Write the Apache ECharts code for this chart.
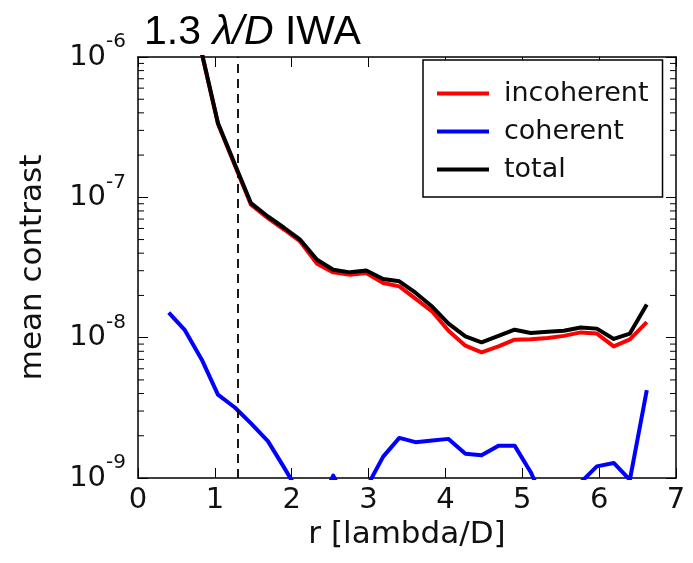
<!DOCTYPE html>
<html>
<head>
<meta charset="utf-8">
<script src="https://cdn.jsdelivr.net/npm/echarts@6/dist/echarts.min.js"></script>
<style>
html,body{margin:0;padding:0;background:#fff;}
#chart{width:693px;height:563px;}
</style>
</head>
<body>
<div id="chart"></div>
<script>
// ---- data ----
var rValues = [0.40, 0.61, 0.83, 1.04, 1.26, 1.47, 1.69, 1.90, 2.11, 2.33,
               2.54, 2.76, 2.97, 3.19, 3.40, 3.61, 3.83, 4.04, 4.26, 4.47,
               4.69, 4.90, 5.11, 5.33, 5.54, 5.76, 5.97, 6.19, 6.40, 6.62];

var incoherent = [6.0e-6, 2.5e-6, 1.06e-6, 3.35e-7, 1.69e-7, 8.85e-8, 7.1e-8, 5.9e-8, 4.85e-8, 3.36e-8,
                  2.92e-8, 2.81e-8, 2.89e-8, 2.45e-8, 2.32e-8, 1.90e-8, 1.53e-8, 1.12e-8, 8.77e-9, 7.86e-9,
                  8.66e-9, 9.68e-9, 9.75e-9, 9.95e-9, 1.03e-8, 1.09e-8, 1.07e-8, 8.67e-9, 9.72e-9, 1.29e-8];

var coherent = [1.51e-8, 1.13e-8, 6.97e-9, 3.93e-9, 3.18e-9, 2.45e-9, 1.83e-9, 1.19e-9, 0.76e-9, 0.6e-9,
                1.04e-9, 0.6e-9, 0.85e-9, 1.42e-9, 1.93e-9, 1.80e-9, 1.85e-9, 1.90e-9, 1.49e-9, 1.45e-9,
                1.70e-9, 1.70e-9, 1.10e-9, 0.6e-9, 0.6e-9, 0.93e-9, 1.21e-9, 1.28e-9, 0.97e-9, 4.23e-9];

var total = [6.1e-6, 2.55e-6, 1.07e-6, 3.39e-7, 1.72e-7, 9.09e-8, 7.30e-8, 6.07e-8, 4.99e-8, 3.59e-8,
             3.05e-8, 2.92e-8, 3.01e-8, 2.62e-8, 2.52e-8, 2.09e-8, 1.66e-8, 1.26e-8, 1.02e-8, 9.26e-9,
             1.03e-8, 1.14e-8, 1.08e-8, 1.10e-8, 1.12e-8, 1.18e-8, 1.16e-8, 9.79e-9, 1.07e-8, 1.72e-8];

var seriesNames = ['incoherent', 'coherent', 'total'];
var seriesColors = ['#ff0000', '#0000ff', '#000000'];
var iwaValue = 1.3;
var xTicks = [0, 1, 2, 3, 4, 5, 6, 7];
var yMin = 1e-9, yMax = 1e-6;
var minorMultipliers = [2, 3, 4, 5, 6, 7, 8, 9];
var minorDecades = [1e-9, 1e-8, 1e-7];

function pairs(ys) {
  return rValues.map(function (r, i) { return [r, ys[i]]; });
}
var minorTickValues = [];
minorDecades.forEach(function (d) {
  minorMultipliers.forEach(function (m) { minorTickValues.push([0, m * d]); });
});

var FONT = 'DejaVu Sans';
var TXT = '#111';
var LW = 4;

var chart = echarts.init(document.getElementById('chart'), null, {renderer: 'canvas'});

function lineSeries(name, ys, color, extra) {
  var s = {
    name: name,
    type: 'line',
    data: pairs(ys),
    symbol: 'none',
    showSymbol: false,
    clip: true,
    lineStyle: {color: color, width: LW, join: 'round'},
    itemStyle: {color: color},
    xAxisIndex: 0,
    yAxisIndex: 0,
    silent: true,
    animation: false
  };
  if (extra) { for (var k in extra) s[k] = extra[k]; }
  return s;
}

var option = {
  animation: false,
  backgroundColor: '#fff',
  title: {
    text: '1.3 {it|λ/D} IWA',
    left: 139,
    top: 7,
    textStyle: {
      fontFamily: 'Liberation Sans',
      fontSize: 41,
      fontWeight: 'normal',
      color: '#000',
      rich: {
        it: {fontFamily: 'Liberation Sans', fontSize: 41, fontStyle: 'italic', color: '#000'}
      }
    }
  },
  grid: {left: 138, right: 17, top: 57, bottom: 85, show: false},
  legend: {
    data: seriesNames,
    orient: 'vertical',
    left: 423,
    top: 60,
    padding: [20, 14, 14, 14],
    itemGap: 11,
    itemWidth: 52,
    itemHeight: 4,
    icon: 'rect',
    borderColor: '#000',
    borderWidth: 1.5,
    borderRadius: 0,
    backgroundColor: '#fff',
    textStyle: {fontFamily: FONT, fontSize: 27, color: TXT, padding: [0, 0, 0, 10], lineHeight: 27}
  },
  xAxis: [{
    type: 'value',
    min: xTicks[0],
    max: xTicks[xTicks.length - 1],
    interval: 1,
    name: 'r [lambda/D]',
    nameLocation: 'middle',
    nameGap: 34,
    nameTextStyle: {fontFamily: FONT, fontSize: 31, color: TXT},
    axisLine: {show: true, onZero: false, lineStyle: {color: '#000', width: 1.5}},
    axisTick: {show: true, inside: true, length: 10, lineStyle: {color: '#000', width: 1}},
    axisLabel: {fontFamily: FONT, fontSize: 29, color: TXT, margin: 8},
    splitLine: {show: false}
  }, {
    type: 'value',
    position: 'top',
    min: xTicks[0],
    max: xTicks[xTicks.length - 1],
    interval: 1,
    axisLine: {show: true, onZero: false, lineStyle: {color: '#000', width: 1.5}},
    axisTick: {show: true, inside: true, length: 10, lineStyle: {color: '#000', width: 1}},
    axisLabel: {show: false},
    splitLine: {show: false}
  }],
  yAxis: [{
    type: 'log',
    logBase: 10,
    min: yMin,
    max: yMax,
    name: 'mean contrast',
    nameLocation: 'middle',
    nameGap: 90,
    nameTextStyle: {fontFamily: FONT, fontSize: 31, color: TXT},
    axisLine: {show: true, onZero: false, lineStyle: {color: '#000', width: 1.5}},
    axisTick: {show: true, inside: true, length: 10, lineStyle: {color: '#000', width: 1}},
    axisLabel: {
      fontFamily: FONT, fontSize: 29, color: TXT, margin: 12,
      formatter: function (v) {
        var e = Math.round(Math.log10(v));
        return '{b|10}{s|' + e + '}';
      },
      rich: {
        b: {fontFamily: FONT, fontSize: 29, color: TXT, lineHeight: 50, verticalAlign: 'middle'},
        s: {fontFamily: FONT, fontSize: 20, color: TXT, verticalAlign: 'top'}
      }
    },
    splitLine: {show: false}
  }, {
    type: 'log',
    logBase: 10,
    min: yMin,
    max: yMax,
    position: 'right',
    axisLine: {show: true, onZero: false, lineStyle: {color: '#000', width: 1.5}},
    axisTick: {show: true, inside: true, length: 10, lineStyle: {color: '#000', width: 1}},
    axisLabel: {show: false},
    splitLine: {show: false}
  }],
  series: [
    lineSeries(seriesNames[0], incoherent, seriesColors[0]),
    lineSeries(seriesNames[1], coherent, seriesColors[1], {
      markLine: {
        silent: true,
        symbol: ['none', 'none'],
        label: {show: false},
        lineStyle: {color: '#000', type: [9, 6], width: 1.8},
        data: [{xAxis: iwaValue}]
      }
    }),
    lineSeries(seriesNames[2], total, seriesColors[2]),
    {
      name: 'minorTicks',
      type: 'custom',
      xAxisIndex: 0,
      yAxisIndex: 0,
      silent: true,
      clip: false,
      data: minorTickValues,
      renderItem: function (params, api) {
        var v = api.value(1);
        var pl = api.coord([xTicks[0], v]);
        var pr = api.coord([xTicks[xTicks.length - 1], v]);
        var st = {stroke: '#000', lineWidth: 1};
        return {
          type: 'group',
          children: [
            {type: 'line', shape: {x1: pl[0], y1: pl[1], x2: pl[0] + 6, y2: pl[1]}, style: st},
            {type: 'line', shape: {x1: pr[0], y1: pr[1], x2: pr[0] - 6, y2: pr[1]}, style: st}
          ]
        };
      }
    }
  ]
};
chart.setOption(option);
</script>
</body>
</html>
